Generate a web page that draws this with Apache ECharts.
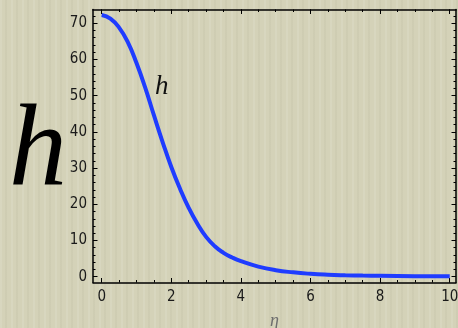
<!DOCTYPE html>
<html><head><meta charset="utf-8">
<script src="https://cdn.jsdelivr.net/npm/echarts@6/dist/echarts.min.js"></script>
<style>
html,body{margin:0;padding:0;}
body{width:458px;height:328px;background-color:#d4d2b8;
background-image:repeating-linear-gradient(90deg,rgba(255,255,255,0.10) 0px,rgba(255,255,255,0.10) 2px,rgba(0,0,0,0) 2px,rgba(0,0,0,0) 5px,rgba(120,120,90,0.06) 5px,rgba(120,120,90,0.06) 7px,rgba(0,0,0,0) 7px,rgba(0,0,0,0) 11px);}
#c{width:458px;height:328px;}
</style></head><body><div id="c"></div>
<script>
var etaValues = [0,0.25,0.5,0.75,1.0,1.25,1.5,1.75,2.0,2.25,2.5,2.75,3.0,3.25,3.5,3.75,4.0,4.5,5.0,5.5,6.0,6.5,7.0,7.5,8.0,9.0,10.0];
var hValues   = [72.3,71.3,68.8,64.8,59,52.2,44.6,37.2,30.3,24.3,19.0,14.6,11.0,8.4,6.6,5.3,4.3,2.8,1.8,1.2,0.8,0.55,0.4,0.3,0.25,0.15,0.1];
var xMajorTicks = [0,2,4,6,8,10];
var xMinorTicks = [0,0.5,1,1.5,2,2.5,3,3.5,4,4.5,5,5.5,6,6.5,7,7.5,8,8.5,9,9.5,10];
var yMajorTicks = [0,10,20,30,40,50,60,70];
var yMinorTicks = [0,2,4,6,8,10,12,14,16,18,20,22,24,26,28,30,32,34,36,38,40,42,44,46,48,50,52,54,56,58,60,62,64,66,68,70,72];
var curveName = 'h';
var yTitle = 'h';
var xTitle = 'η';

var xMin=-0.25, xMax=10.18, yMin=-1.6, yMax=73.8;
var lab = {fontFamily:"'DejaVu Sans Condensed','DejaVu Sans',sans-serif",fontSize:15,color:'#1a1a1a'};
function xa(pos, ticks, len, labels, line){
  return {type:'value',position:pos,min:xMin,max:xMax,splitLine:{show:false},
    axisLine:{show:line,onZero:false,lineStyle:{color:'#000',width:1.5}},
    axisTick:{show:true,inside:true,length:len,customValues:ticks,lineStyle:{color:'#000',width:1}},
    axisLabel:Object.assign({show:labels,customValues:xMajorTicks,margin:7},lab)};
}
function ya(pos, ticks, len, labels, line){
  return {type:'value',position:pos,min:yMin,max:yMax,splitLine:{show:false},
    axisLine:{show:line,onZero:false,lineStyle:{color:'#000',width:1.5}},
    axisTick:{show:true,inside:true,length:len,customValues:ticks,lineStyle:{color:'#000',width:1}},
    axisLabel:Object.assign({show:labels,customValues:yMajorTicks,margin:6},lab)};
}
var bottom = xa('bottom', xMajorTicks, 4.5, true, true);
bottom.name = xTitle; bottom.nameLocation='middle'; bottom.nameGap=30;
bottom.nameTextStyle={fontFamily:"'Liberation Serif',serif",fontStyle:'italic',fontSize:18,color:'#6e6e6e'};
var chart = echarts.init(document.getElementById('c'));
chart.setOption({
  backgroundColor:'transparent',
  animation:false,
  grid:{left:93,right:2,top:9.5,bottom:45.5,containLabel:false,outerBoundsMode:'none'},
  xAxis:[bottom, xa('bottom',xMinorTicks,2.5,false,false), xa('top',xMajorTicks,4.5,false,true), xa('top',xMinorTicks,2.5,false,false)],
  yAxis:[ya('left',yMajorTicks,4.5,true,true), ya('left',yMinorTicks,2.5,false,false), ya('right',yMajorTicks,4.5,false,true), ya('right',yMinorTicks,2.5,false,false)],
  series:[{type:'line',xAxisIndex:0,yAxisIndex:0,smooth:true,symbol:'none',
    data:etaValues.map(function(x,i){return [x,hValues[i]];}),
    lineStyle:{color:'#1f3cff',width:4}}],
  graphic:[
    {type:'text',left:9,top:95,style:{text:yTitle,font:"italic 116px 'Liberation Serif', serif",fill:'#000'}},
    {type:'text',left:155,top:73,style:{text:curveName,font:"italic 27px 'Liberation Serif', serif",fill:'#111'}}
  ]
});
</script></body></html>
